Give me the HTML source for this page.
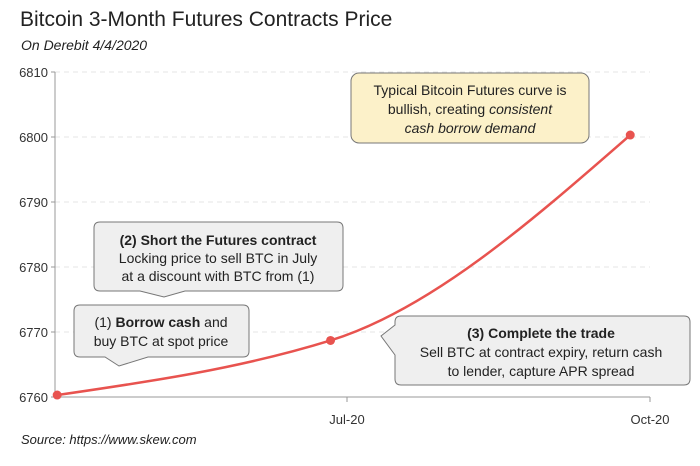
<!DOCTYPE html>
<html><head><meta charset="utf-8"><style>
body{margin:0;background:#fff;}
svg{display:block;font-family:"Liberation Sans",Arial,sans-serif;}
</style></head><body>
<svg id="chart" width="700" height="466" viewBox="0 0 700 466">
<text x="20" y="26" font-size="21" fill="#222">Bitcoin 3-Month Futures Contracts Price</text>
<text x="21" y="50" font-size="14" font-style="italic" fill="#222">On Derebit 4/4/2020</text>
<g id="grid"></g>
<g id="axes"></g>
<path id="curve" fill="none" stroke="#e8534f" stroke-width="2.5"></path>
<g id="points"></g>
<g>
<path d="M80,305 H243 Q249,305 249,311 V351 Q249,357 243,357 H148 L119,366 L105,357 H80 Q74,357 74,351 V311 Q74,305 80,305 Z" fill="#efefef" stroke="#777" stroke-width="1"/>
<text x="161" y="327" font-size="14" text-anchor="middle" fill="#222">(1) <tspan font-weight="bold">Borrow cash</tspan> and</text>
<text x="161" y="346" font-size="14" text-anchor="middle" fill="#222">buy BTC at spot price</text>
</g>
<g>
<path d="M100,222 H337 Q343,222 343,228 V285 Q343,291 337,291 H185 L164,297 L140,291 H100 Q94,291 94,285 V228 Q94,222 100,222 Z" fill="#efefef" stroke="#777" stroke-width="1"/>
<text x="218" y="245" font-size="14" font-weight="bold" text-anchor="middle" fill="#222">(2) Short the Futures contract</text>
<text x="218" y="263" font-size="14" text-anchor="middle" fill="#222">Locking price to sell BTC in July</text>
<text x="218" y="281" font-size="14" text-anchor="middle" fill="#222">at a discount with BTC from (1)</text>
</g>
<g>
<path d="M401,316 H684 Q690,316 690,322 V379 Q690,385 684,385 H401 Q395,385 395,379 V355 L381,336 L395,325 V322 Q395,316 401,316 Z" fill="#efefef" stroke="#777" stroke-width="1"/>
<text x="541" y="338" font-size="14" font-weight="bold" text-anchor="middle" fill="#222">(3) Complete the trade</text>
<text x="541" y="357" font-size="14" text-anchor="middle" fill="#222">Sell BTC at contract expiry, return cash</text>
<text x="541" y="376" font-size="14" text-anchor="middle" fill="#222">to lender, capture APR spread</text>
</g>
<g>
<rect x="351" y="73" width="238" height="70" rx="8" fill="#fcf1c9" stroke="#777" stroke-width="1"/>
<text x="470" y="95" font-size="14" text-anchor="middle" fill="#222">Typical Bitcoin Futures curve is</text>
<text x="470" y="114" font-size="14" text-anchor="middle" fill="#222">bullish, creating <tspan font-style="italic">consistent</tspan></text>
<text x="470" y="133" font-size="14" text-anchor="middle" font-style="italic" fill="#222">cash borrow demand</text>
</g>
<text x="21" y="444" font-size="13" font-style="italic" fill="#222">Source: https://www.skew.com</text>
</svg>
<script>
const dates = ["2020-04-04","2020-06-26","2020-09-25"];
const prices = [6760.3, 6768.7, 6800.3];
const yTicks = [6760, 6770, 6780, 6790, 6800, 6810];
const xTickDates = ["2020-07-01","2020-10-01"];
const xTickLabels = ["Jul-20","Oct-20"];

const NS="http://www.w3.org/2000/svg";
const L=55,R=650,T=72,B=397;
const d0=Date.UTC(2020,6,1), d1=Date.UTC(2020,9,1);
const px0=347, px1=650;
function xs(s){const t=Date.parse(s+"T00:00:00Z");return px0+(t-d0)/(d1-d0)*(px1-px0);}
function ys(v){return B-(v-6760)/(6810-6760)*(B-T);}
function mk(tag,attrs,parent){const e=document.createElementNS(NS,tag);for(const k in attrs)e.setAttribute(k,attrs[k]);parent.appendChild(e);return e;}
const grid=document.getElementById('grid'),axes=document.getElementById('axes');
yTicks.forEach(v=>{
  const y=ys(v);
  if(v!==6760){const g=mk('line',{x1:L,x2:R,y1:y,y2:y,stroke:'#e4e4e4','stroke-dasharray':'5,4'},grid);
  
  }
  mk('line',{x1:L-4,x2:L,y1:y,y2:y,stroke:'#999'},axes);
  const t=mk('text',{x:L-7,y:y+5,'font-size':13,'text-anchor':'end',fill:'#333'},axes);
  t.textContent=v;
  
  
});
mk('line',{x1:L,x2:L,y1:T,y2:B,stroke:'#999'},axes);
mk('line',{x1:L,x2:R,y1:B,y2:B,stroke:'#999'},axes);
xTickDates.forEach((s,i)=>{
  const x=xs(s);
  mk('line',{x1:x,x2:x,y1:B,y2:B+5,stroke:'#999'},axes);
  const t=mk('text',{x:x,y:B+27,'font-size':13,'text-anchor':'middle',fill:'#333'},axes);
  t.textContent=xTickLabels[i];
  
  
});
// monotone cubic through points
const P=dates.map((d,i)=>[xs(d),ys(prices[i])]);
const n=P.length,m=[];const dk=[];
for(let i=0;i<n-1;i++)dk.push((P[i+1][1]-P[i][1])/(P[i+1][0]-P[i][0]));
m[0]=dk[0];m[n-1]=dk[n-2];
for(let i=1;i<n-1;i++)m[i]=(dk[i-1]*dk[i]<=0)?0:2/(1/dk[i-1]+1/dk[i]);
m[0]=(3*dk[0]-m[1])/2; m[n-1]=(3*dk[n-2]-m[n-2])/2;
let d="M"+P[0][0]+","+P[0][1];
for(let i=0;i<n-1;i++){const h=(P[i+1][0]-P[i][0])/3;
d+=" C"+(P[i][0]+h)+","+(P[i][1]+m[i]*h)+" "+(P[i+1][0]-h)+","+(P[i+1][1]-m[i+1]*h)+" "+P[i+1][0]+","+P[i+1][1];}
document.getElementById('curve').setAttribute('d',d);
const pts=document.getElementById('points');
P.forEach(p=>{const c=mk('circle',{cx:p[0],cy:p[1],r:4.5,fill:'#e8534f'},pts);

});
</script>
</body></html>
